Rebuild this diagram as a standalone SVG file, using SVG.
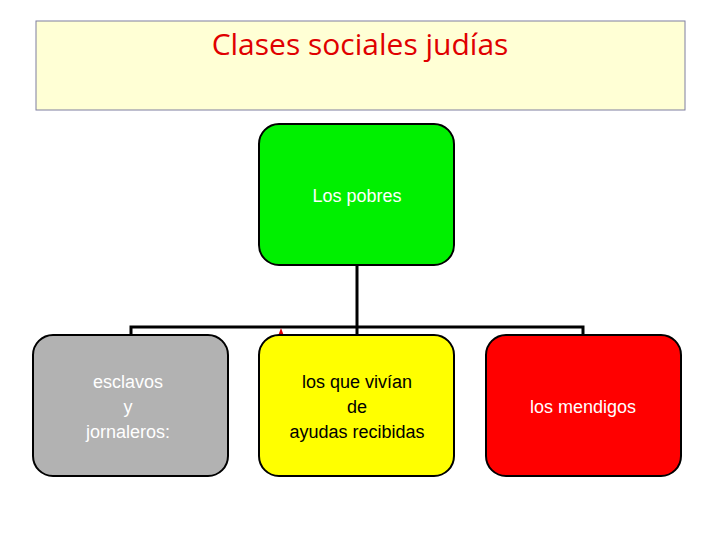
<svg xmlns="http://www.w3.org/2000/svg" width="720" height="540" viewBox="0 0 720 540">
<style>
.b{stroke:#000;stroke-width:2}
.t{font-family:"Liberation Sans",Arial,sans-serif;font-size:18px;text-anchor:middle}
</style>
<rect width="720" height="540" fill="#fff"/>
<g id="title"><rect x="36" y="21" width="649" height="89" fill="#FFFFD5" stroke="#7F7F9F" stroke-width="1"/>
<text x="360" y="55" font-family="Open Sans,'Liberation Sans',sans-serif" font-size="30" fill="#E00000" text-anchor="middle">Clases sociales judías</text></g>
<g id="connectors" fill="none" stroke="#000" stroke-width="3">
<path d="M357 265V335M131 336V327H583V336"/>
</g>
<polygon points="281,328 278,336 284,336" fill="#E00000"/>
<g id="pobres"><rect class="b" x="259" y="124" width="195" height="141" rx="20" fill="#00F000"/>
<text class="t" x="357" y="202" fill="#fff">Los pobres</text></g>
<g id="esclavos"><rect class="b" x="33" y="335" width="195" height="141" rx="20" fill="#B2B2B2"/>
<text class="t" x="128" y="388" fill="#fff">esclavos<tspan x="128" dy="25">y</tspan><tspan x="128" dy="25">jornaleros:</tspan></text></g>
<g id="ayudas"><rect class="b" x="259" y="335" width="195" height="141" rx="20" fill="#FFFF00"/>
<text class="t" x="357" y="388" fill="#000">los que vivían<tspan x="357" dy="25">de</tspan><tspan x="357" dy="25">ayudas recibidas</tspan></text></g>
<g id="mendigos"><rect class="b" x="486" y="335" width="195" height="141" rx="20" fill="#FF0000"/>
<text class="t" x="583" y="413" fill="#fff">los mendigos</text></g>
</svg>
